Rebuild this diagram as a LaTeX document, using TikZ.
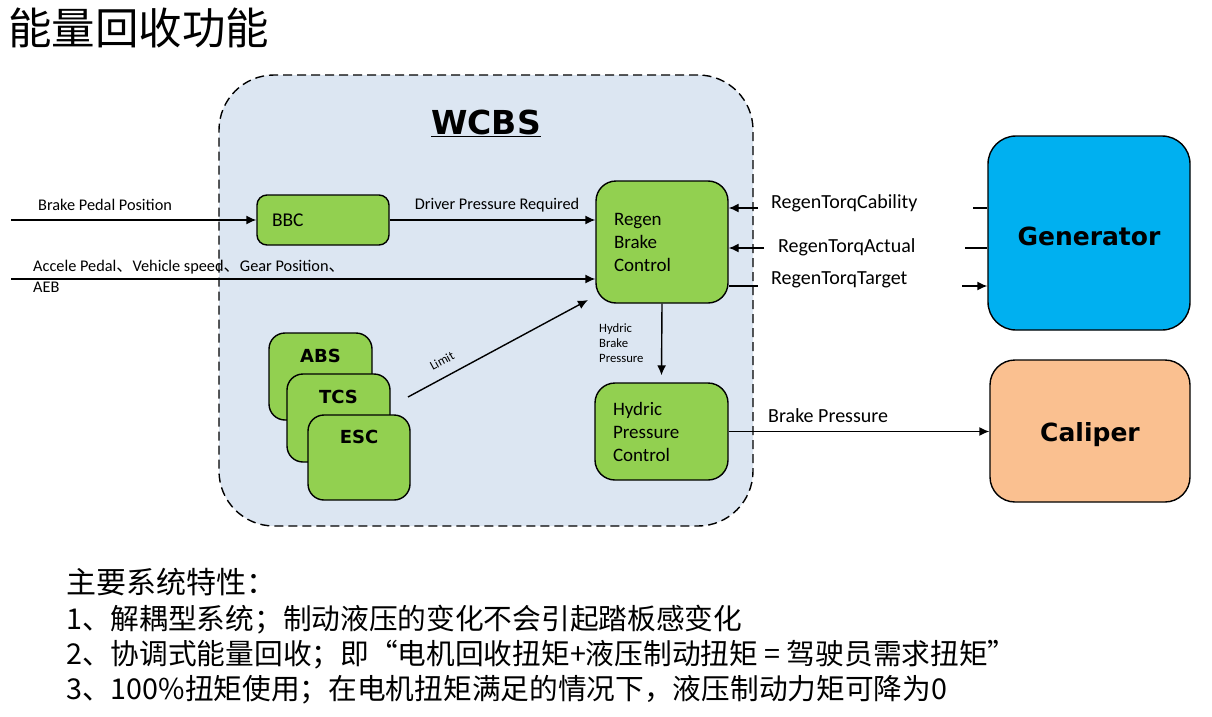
\documentclass[tikz,border=0pt]{standalone}
\usepackage{fontspec}
\setmainfont{Carlito}
\newfontfamily\cjk{Noto Sans CJK SC}
\newfontfamily\vfont{DejaVu Sans}
\usetikzlibrary{arrows.meta}
\definecolor{wbg}{HTML}{DCE6F2}
\definecolor{grn}{HTML}{92D050}
\definecolor{gblue}{HTML}{00B0F0}
\definecolor{corange}{HTML}{FAC090}
\newcommand{\fs}[2]{\fontsize{#1}{#2}\selectfont}
\tikzset{
  arr/.style={line width=1.4pt,-{Latex[length=10pt,width=9pt]}},
  plain/.style={line width=1.4pt},
  gbox/.style={draw=black,line width=1.4pt,fill=grn,rounded corners=#1,inner sep=0pt},
  lbl/.style={inner sep=0pt,anchor=west,font=\fs{16.3}{19}},
  tlbl/.style={inner sep=0pt,anchor=west,font=\fs{20}{23}},
  sbox/.style={gbox=16pt,minimum width=103pt,minimum height=87pt},
  stxt/.style={inner sep=0pt,font=\vfont\bfseries\fs{18}{20}},
  cn/.style={inner sep=0pt,anchor=west,font=\cjk\fs{28.7}{32}},
}
\begin{document}
\begin{tikzpicture}[x=1pt,y=-1pt]
\useasboundingbox[fill=white] (0,0) rectangle (1212,717);
% title
\node[inner sep=0pt,anchor=west,font=\cjk\fs{43.5}{46}] (title) at (8,28) {能量回收功能};
% WCBS area
\node[draw=black,line width=1.4pt,dash pattern=on 9pt off 5pt,fill=wbg,rounded corners=55pt,
  minimum width=534pt,minimum height=451pt,inner sep=0pt] (wcbs) at (486,300.5) {};
\node[inner sep=0pt,font=\vfont\bfseries\fs{33}{36}] (wcbslbl) at (486,123) {\underline{WCBS}};
% boxes
\node[gbox=10pt,minimum height=50pt,text width=102pt,inner xsep=15pt,align=left,font=\fs{19.5}{22}] (bbc) at (323,220) {BBC};
\node[gbox=20pt,minimum height=122pt,text width=96pt,inner xsep=18pt,align=left,font=\fs{19}{23}] (regen) at (662,242) {Regen\\Brake\\Control};
\node[gbox=20pt,minimum height=97pt,text width=97pt,inner xsep=18pt,align=left,font=\fs{19}{23}] (hydric) at (661.5,431.5) {Hydric\\Pressure\\Control};
\node[sbox] (abs) at (320.5,376.5) {};
\node[stxt] (abst) at (320.5,356) {ABS};
\node[sbox,minimum height=88pt] (tcs) at (338.5,418) {};
\node[stxt] (tcst) at (338.5,397) {TCS};
\node[sbox,minimum width=102pt,minimum height=85pt] (esc) at (359,457.5) {};
\node[stxt] (esct) at (359,437) {ESC};
\node[draw=black,line width=1.4pt,fill=gblue,rounded corners=28pt,minimum width=202pt,minimum height=194pt,inner sep=0pt] (gen) at (1089,233) {};
\node[inner sep=0pt,font=\vfont\bfseries\fs{25}{28}] (gent) at (1089,236) {Generator};
\node[draw=black,line width=1.4pt,fill=corange,rounded corners=25pt,minimum width=200pt,minimum height=142pt,inner sep=0pt] (cal) at (1090,431) {};
\node[inner sep=0pt,font=\vfont\bfseries\fs{25}{28}] (calt) at (1090,435) {Caliper};
% inputs
\coordinate (bpp) at (11,220);
\coordinate (acc) at (11,279);
\draw[arr] (bpp) -- (bbc.west);
\node[lbl] (bpplbl) at (38,205) {Brake Pedal Position};
\draw[arr] (acc) -- (acc -| regen.west);
\node[lbl] (acclbl1) at (33,267) {Accele Pedal{\cjk 、}Vehicle speed{\cjk 、}Gear Position{\cjk 、}};
\node[lbl] (acclbl2) at (33,287) {AEB};
\draw[arr] (bbc.east) -- (bbc.east -| regen.west);
\node[inner sep=0pt,font=\fs{16.3}{19}] (dpr) at (497,205) {Driver Pressure Required};
% limit
\coordinate (lims) at (408,397);
\coordinate (lime) at (588,300);
\draw[arr] (lims) -- (lime);
\node[inner sep=0pt,rotate=28.3,font=\fs{12.7}{15}] (limlbl) at (442,361) {Limit};
% regen -> hydric
\draw[arr] (regen.south) -- ([yshift=7pt]hydric.north);
\node[inner sep=0pt,anchor=west,align=left,font=\fs{12.7}{15}] (hbp) at (599,343) {Hydric\\Brake\\Pressure};
% hydric -> caliper
\draw[arr] (hydric.east) -- (hydric.east -| cal.west);
\node[tlbl] (bplbl) at (768,416) {Brake Pressure};
% generator signals
\coordinate (cabt) at (758,208);
\coordinate (cabs) at (973,208);
\draw[arr] (cabt) -- (cabt -| regen.east);
\draw[plain] (cabs) -- (cabs -| gen.west);
\node[tlbl] (cablbl) at (771,203) {RegenTorqCability};
\coordinate (actt) at (764,248);
\coordinate (acts) at (965,248);
\draw[arr] (actt) -- (actt -| regen.east);
\draw[plain] (acts) -- (acts -| gen.west);
\node[tlbl] (actlbl) at (778,247) {RegenTorqActual};
\coordinate (tgtt) at (758,286);
\coordinate (tgts) at (962,286);
\draw[plain] (tgtt -| regen.east) -- (tgtt);
\draw[arr] (tgts) -- (tgts -| gen.west);
\node[tlbl] (tgtlbl) at (771,280) {RegenTorqTarget};
% bottom text
\node[cn,font=\cjk\fs{30}{33}] (feat) at (66,582) {主要系统特性：};
\node[cn] (f1) at (66,620) {1、解耦型系统；制动液压的变化不会引起踏板感变化};
\node[cn] (f2) at (66,655) {2、协调式能量回收；即“电机回收扭矩+液压制动扭矩 = 驾驶员需求扭矩”};
\node[cn] (f3) at (66,690) {3、100\%扭矩使用；在电机扭矩满足的情况下，液压制动力矩可降为0};
\end{tikzpicture}
\end{document}
